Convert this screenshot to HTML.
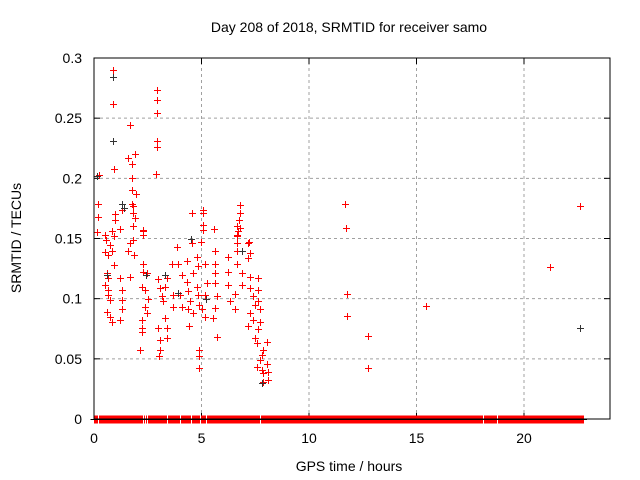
<!DOCTYPE html>
<html><head><meta charset="utf-8"><style>
body{margin:0;background:#fff;}
svg{display:block;font-family:"Liberation Sans",sans-serif;}
</style></head><body>
<svg id="chart" width="640" height="480" viewBox="0 0 640 480">
<rect width="640" height="480" fill="#fff"/>
<text x="349" y="32" font-size="14" text-anchor="middle">Day 208 of 2018, SRMTID for receiver samo</text>
<text x="349" y="471" font-size="14" text-anchor="middle">GPS time / hours</text>
<text transform="translate(21,238) rotate(-90)" font-size="14" text-anchor="middle">SRMTID / TECUs</text>
<g id="grid"></g>
<g id="ticks"></g>
<g id="zeros" shape-rendering="crispEdges"></g>
<g id="redpts" shape-rendering="crispEdges"></g>
<g id="blackpts" shape-rendering="crispEdges"></g>
<rect x="94" y="58" width="516" height="361" fill="none" stroke="#000" stroke-width="1"/>
</svg>
<script>
const xTicks=[0,5,10,15,20];
const yTicks=[0,0.05,0.1,0.15,0.2,0.25,0.3];
const yTickLabels=["0","0.05","0.1","0.15","0.2","0.25","0.3"];
const redTimes=[0.12,0.51,0.82,0.93,0.56,0.74,0.51,0.82,0.65,0.93,0.59,0.67,0.51,0.67,0.66,0.74,0.59,0.74,0.82,1.21,1.29,1.32,1.32,1.21,1.67,1.67,1.81,1.58,1.86,2.28,2.28,2.28,2.28,2.45,2.22,2.37,2.53,2.37,2.45,2.22,2.22,2.22,2.14,2.99,3.07,3.15,3.22,2.99,3.07,3.07,3.02,3.30,3.38,3.30,3.38,3.38,3.69,3.69,3.61,3.91,3.85,4.08,4.00,4.08,4.31,4.31,4.39,4.47,4.39,4.43,4.54,4.62,4.62,4.78,4.85,4.78,4.85,4.90,5.01,5.16,4.90,4.90,4.90,4.96,5.08,5.16,5.24,5.16,5.63,5.63,5.63,5.63,5.71,5.63,5.71,5.55,6.25,6.25,6.25,6.33,6.56,6.56,6.64,6.64,6.64,6.64,6.71,6.87,6.87,7.18,7.26,7.18,7.26,7.26,7.41,7.49,7.26,7.41,7.18,7.64,7.64,7.64,7.72,7.72,7.64,7.49,7.57,8.03,7.88,7.80,7.72,7.57,7.80,8.03,7.88,8.11,7.88,8.11,
0.90,0.90,0.90,2.91,2.91,2.91,1.67,0.90,2.94,2.91,1.91,1.60,1.75,0.93,0.25,2.87,1.78,1.75,1.95,0.20,1.29,1.78,1.83,1.29,0.20,0.98,0.98,1.80,1.91,1.80,1.21,0.15,2.29,2.29,4.54,5.08,5.08,5.08,5.08,5.58,6.79,6.79,6.76,6.64,6.79,6.64,7.22,0.82,0.51,
11.67,11.72,11.77,11.77,12.74,12.74,15.44,21.21,22.6,22.6];
const redValues=[0.155,0.153,0.156,0.152,0.149,0.145,0.139,0.140,0.136,0.128,0.121,0.117,0.111,0.107,0.103,0.099,0.089,0.085,0.081,0.082,0.091,0.099,0.107,0.117,0.118,0.146,0.149,0.140,0.136,0.156,0.153,0.129,0.122,0.121,0.110,0.107,0.100,0.093,0.088,0.082,0.076,0.072,0.057,0.116,0.109,0.102,0.098,0.076,0.066,0.057,0.052,0.110,0.117,0.084,0.076,0.067,0.103,0.093,0.129,0.129,0.143,0.120,0.103,0.093,0.131,0.114,0.106,0.098,0.091,0.077,0.146,0.121,0.088,0.135,0.127,0.110,0.103,0.095,0.091,0.085,0.057,0.052,0.042,0.147,0.157,0.129,0.113,0.103,0.140,0.129,0.121,0.113,0.102,0.092,0.068,0.084,0.135,0.122,0.111,0.098,0.091,0.104,0.152,0.146,0.140,0.129,0.156,0.121,0.111,0.146,0.138,0.134,0.118,0.109,0.102,0.095,0.088,0.082,0.077,0.117,0.107,0.098,0.091,0.081,0.075,0.067,0.063,0.064,0.057,0.053,0.049,0.043,0.041,0.046,0.038,0.039,0.031,0.032,
0.290,0.284,0.262,0.273,0.265,0.254,0.244,0.231,0.231,0.226,0.220,0.217,0.212,0.208,0.203,0.204,0.200,0.190,0.187,0.179,0.179,0.179,0.177,0.174,0.168,0.170,0.165,0.171,0.167,0.160,0.158,0.155,0.157,0.153,0.171,0.174,0.171,0.161,0.157,0.158,0.178,0.171,0.165,0.160,0.159,0.153,0.147,0.156,0.153,
0.179,0.159,0.104,0.086,0.069,0.042,0.094,0.126,0.177,0.076];
const blackTimes=[0.15,0.90,0.90,1.29,2.40,3.30,4.50,5.20,7.80,22.6,0.6,1.4,3.9,6.9];
const blackValues=[0.202,0.284,0.231,0.179,0.120,0.120,0.150,0.100,0.030,0.076,0.120,0.175,0.105,0.140];
const zeroGaps=[0.17,0.87,2.29,2.37,2.48,3.4,4.0,4.51,4.93,5.21,5.55,7.72,7.88,17.88,18.1,18.76,19.69,20.25];
const zeroStart=0.0, zeroEnd=22.76;

const X0=94,X1=610,Y0=419,Y1=58,XMAX=24,YMAX=0.3;
const sx=t=>X0+(X1-X0)*t/XMAX;
const sy=v=>Y0-(Y0-Y1)*v/YMAX;
const NS="http://www.w3.org/2000/svg";
function mk(tag,attrs,parent){const e=document.createElementNS(NS,tag);for(const k in attrs)e.setAttribute(k,attrs[k]);parent.appendChild(e);return e;}
const grid=document.getElementById('grid'),ticks=document.getElementById('ticks');
xTicks.forEach(t=>{
  const x=sx(t);
  if(t>0){const g=mk('line',{x1:x,y1:Y0,x2:x,y2:Y1,stroke:'#a0a0a0','stroke-dasharray':'3,3'},grid);
  
  }
  const a=mk('line',{x1:x,y1:Y0,x2:x,y2:Y0-6,stroke:'#000'},ticks);
  
  
  const b=mk('line',{x1:x,y1:Y1,x2:x,y2:Y1+6,stroke:'#000'},ticks);
  
  
  const l=mk('text',{x:x,y:443,'font-size':14,'text-anchor':'middle'},ticks);l.textContent=t;
  
  
});
yTicks.forEach((v,i)=>{
  const y=sy(v);
  if(v>0&&v<YMAX){const g=mk('line',{x1:X0,y1:y,x2:X1,y2:y,stroke:'#a0a0a0','stroke-dasharray':'3,3'},grid);
  
  }
  const a=mk('line',{x1:X0,y1:y,x2:X0+6,y2:y,stroke:'#000'},ticks);
  
  
  const b=mk('line',{x1:X1,y1:y,x2:X1-6,y2:y,stroke:'#000'},ticks);
  
  
  const l=mk('text',{x:82,y:y+5,'font-size':14,'text-anchor':'end'},ticks);l.textContent=yTickLabels[i];
  
  
});
function plus(parent,t,v,color,arm){
  const x=Math.round(sx(t))+0.5,y=Math.round(sy(v))+0.5;
  const h=arm||3.5;
  return mk('path',{d:`M${x-3.5},${y}H${x+3.5}M${x},${y-h}V${y+h}`,stroke:color,'stroke-width':1,fill:'none'},parent);
}
const zeros=document.getElementById('zeros');
for(let t=zeroStart;t<=zeroEnd+1e-9;t+=0.02){
  if(zeroGaps.some(g=>Math.abs(t-g)<0.03))continue;
  const p=plus(zeros,t,0,'#ff0000',4);
  
  
}
const zl=mk('line',{x1:sx(zeroStart)-3.5,y1:sy(0)+0.5,x2:sx(zeroEnd)+3.5,y2:sy(0)+0.5,stroke:'#000'},zeros);


const rp=document.getElementById('redpts');
redTimes.forEach((t,i)=>{const p=plus(rp,t,redValues[i],'#ff0000');
  
  });
const bp=document.getElementById('blackpts');
blackTimes.forEach((t,i)=>{const p=plus(bp,t,blackValues[i],'#333');
  
  });
</script>
</body></html>
